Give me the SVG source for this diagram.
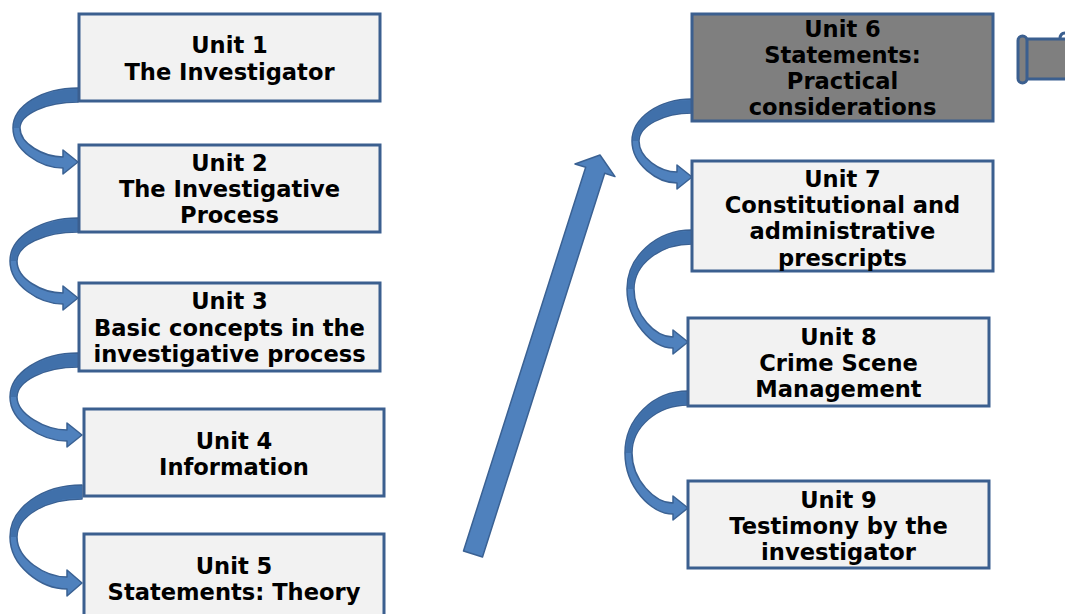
<svg xmlns="http://www.w3.org/2000/svg" width="1065" height="614" viewBox="0 0 1065 614">
<style>
.box{fill:#f2f2f2;stroke:#3b5f8f;stroke-width:3}
.dark{fill:#7f7f7f;stroke:#3b5f8f;stroke-width:3}
.t{font-family:"DejaVu Sans",Verdana,sans-serif;font-weight:bold;font-size:22.6px;fill:#000;text-anchor:middle}
.arr{fill:#4f81bd;stroke:#3a6193;stroke-width:1.5;stroke-linejoin:round}
.back{fill:#4070aa;stroke:none}
</style>
<rect width="1065" height="614" fill="#ffffff"/>
<g id="connectors">
  <path class="arr" d="M78,88 C42,88 13,106 13,128 C13,150 40,168 63,168 L63,174 L78,162 L63,150 L63,157 C44,157 20,144 20,128 C20,114 46,102 78,102 Z"/>
  <path class="back" d="M78,89 C42,89 14,106 14,128 L19,128 C19,114 46,101 78,101 Z"/>
  <path class="arr" d="M78,218 C41,218 10,237 10,261 C10,285 39,304 63,304 L63,310 L78,298 L63,286 L63,293 C42,293 17,279 17,261 C17,245 44,232 78,232 Z"/>
  <path class="back" d="M78,219 C41,219 11,237 11,261 L16,261 C16,245 44,231 78,231 Z"/>
  <path class="arr" d="M78,353 C41,353 10,373 10,397 C10,421 41,441 67,441 L67,447 L82,435 L67,423 L67,430 C45,430 17,414 17,397 C17,381 44,367 78,367 Z"/>
  <path class="back" d="M78,354 C41,354 11,373 11,397 L16,397 C16,381 44,366 78,366 Z"/>
  <path class="arr" d="M82,485 C42,485 10,508 10,537 C10,566 41,589 67,589 L67,596 L82,583 L67,570 L67,577 C45,577 17,559 17,537 C17,516 46,499 82,499 Z"/>
  <path class="back" d="M82,486 C42,486 11,508 11,537 L16,537 C16,516 46,498 82,498 Z"/>
  <path class="arr" d="M692,99 C659,99 632,118 632,141 C632,164 657,183 677,183 L677,189 L692,177 L677,165 L677,172 C660,172 639,158 639,141 C639,126 663,113 692,113 Z"/>
  <path class="back" d="M692,100 C659,100 633,118 633,141 L638,141 C638,126 663,112 692,112 Z"/>
  <path class="arr" d="M692,230 C656,230 627,257 627,289 C627,321 652,348 673,348 L673,354 L688,342 L673,330 L673,337 C655,337 634,315 634,289 C634,264 660,244 692,244 Z"/>
  <path class="back" d="M692,231 C656,231 628,257 628,289 L633,289 C633,264 660,243 692,243 Z"/>
  <path class="arr" d="M688,391 C653,391 625,419 625,453 C625,487 651,514 673,514 L673,520 L688,508 L673,496 L673,503 C655,503 632,480 632,453 C632,427 657,405 688,405 Z"/>
  <path class="back" d="M688,392 C653,392 626,419 626,453 L631,453 C631,427 657,404 688,404 Z"/>
  <polygon class="arr" points="463.5,551 482.5,557 604.7,173.2 615,176.6 600,155 575,164 585.7,167.2"/>
</g>
<g id="scroll">
  <rect x="1026" y="39" width="60" height="40" fill="#7f7f7f" stroke="#3b5f8f" stroke-width="3"/>
  <rect x="1018" y="36" width="9" height="47" rx="4.5" fill="#7f7f7f" stroke="#3b5f8f" stroke-width="3"/>
  <path d="M1060,39 C1060,35 1062,33 1065,33" fill="none" stroke="#3b5f8f" stroke-width="3"/>
</g>
<g id="unit1"><rect class="box" x="79" y="14" width="301" height="87"/><text class="t" x="229.5" y="53">Unit 1</text><text class="t" x="229.5" y="80">The Investigator</text></g>
<g id="unit2"><rect class="box" x="79" y="145" width="301" height="87"/><text class="t" x="229.5" y="171">Unit 2</text><text class="t" x="229.5" y="197">The Investigative</text><text class="t" x="229.5" y="223">Process</text></g>
<g id="unit3"><rect class="box" x="79" y="283" width="301" height="88"/><text class="t" x="229.5" y="309">Unit 3</text><text class="t" x="229.5" y="336">Basic concepts in the</text><text class="t" x="229.5" y="362">investigative process</text></g>
<g id="unit4"><rect class="box" x="84" y="409" width="300" height="87"/><text class="t" x="234" y="449">Unit 4</text><text class="t" x="234" y="475">Information</text></g>
<g id="unit5"><rect class="box" x="84" y="534" width="300" height="90"/><text class="t" x="234" y="574">Unit 5</text><text class="t" x="234" y="600">Statements: Theory</text></g>
<g id="unit6"><rect class="dark" x="692" y="14" width="301" height="107"/><text class="t" x="842.5" y="37">Unit 6</text><text class="t" x="842.5" y="63">Statements:</text><text class="t" x="842.5" y="89">Practical</text><text class="t" x="842.5" y="115">considerations</text></g>
<g id="unit7"><rect class="box" x="692" y="161" width="301" height="110"/><text class="t" x="842.5" y="187">Unit 7</text><text class="t" x="842.5" y="213">Constitutional and</text><text class="t" x="842.5" y="239">administrative</text><text class="t" x="842.5" y="266">prescripts</text></g>
<g id="unit8"><rect class="box" x="688" y="318" width="301" height="88"/><text class="t" x="838.5" y="345">Unit 8</text><text class="t" x="838.5" y="371">Crime Scene</text><text class="t" x="838.5" y="397">Management</text></g>
<g id="unit9"><rect class="box" x="688" y="481" width="301" height="87"/><text class="t" x="838.5" y="508">Unit 9</text><text class="t" x="838.5" y="534">Testimony by the</text><text class="t" x="838.5" y="560">investigator</text></g>
</svg>
